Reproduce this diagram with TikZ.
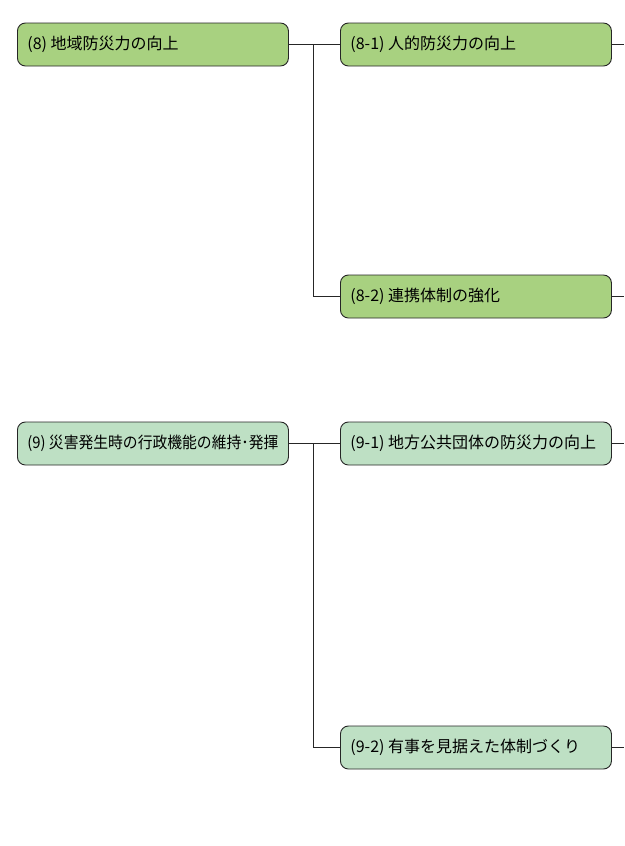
\documentclass[tikz,border=0pt]{standalone}
\usepackage{fontspec}
\setmainfont{Noto Sans CJK JP}
\usepackage{xcolor,graphicx}
\definecolor{leafgreen}{RGB}{168,209,128}
\definecolor{mintgreen}{RGB}{190,224,196}
\newcommand{\boxtext}[1]{\hbox to 251pt{#1\hss}}
\tikzset{
  planbox/.style={draw=black!85, line width=0.9pt, rounded corners=8pt, anchor=west,
    minimum width=271pt, minimum height=43pt, inner xsep=10pt,
    font=\fontsize{16}{18}\selectfont},
  link/.style={draw=black!85, line width=0.9pt}
}
\begin{document}
\begin{tikzpicture}[x=1pt, y=1pt]
        \useasboundingbox (0,0) rectangle (624,-846);
        \coordinate (rim) at (624,0);
        % (8)
        \node[planbox, fill=leafgreen] (n8) at (17,-44.5) {\boxtext{(8) 地域防災力の向上}};
        \node[planbox, fill=leafgreen] (n81) at (340,-44.5) {\boxtext{(8-1) 人的防災力の向上}};
        \node[planbox, fill=leafgreen] (n82) at (340,-296.5) {\boxtext{(8-2) 連携体制の強化}};
        \coordinate (j8) at (313,-44.5);
        \draw[link] (n8.east) -- (n81.west);
        \draw[link] (j8) |- (n82.west);
        \foreach \b in {n81,n82}
            \draw[link] (\b.east) -- (\b.east -| rim);
        % (9)
        \node[planbox, fill=mintgreen] (n9) at (17,-443.5) {\boxtext{\scalebox{0.925}[1]{(9) 災害発生時の行政機能の維持･発揮}}};
        \node[planbox, fill=mintgreen] (n91) at (340,-443.5) {\boxtext{(9-1) 地方公共団体の防災力の向上}};
        \node[planbox, fill=mintgreen] (n92) at (340,-747.5) {\boxtext{(9-2) 有事を見据えた体制づくり}};
        \coordinate (j9) at (313,-443.5);
        \draw[link] (n9.east) -- (n91.west);
        \draw[link] (j9) |- (n92.west);
        \foreach \b in {n91,n92}
            \draw[link] (\b.east) -- (\b.east -| rim);
    \end{tikzpicture}
\end{document}
